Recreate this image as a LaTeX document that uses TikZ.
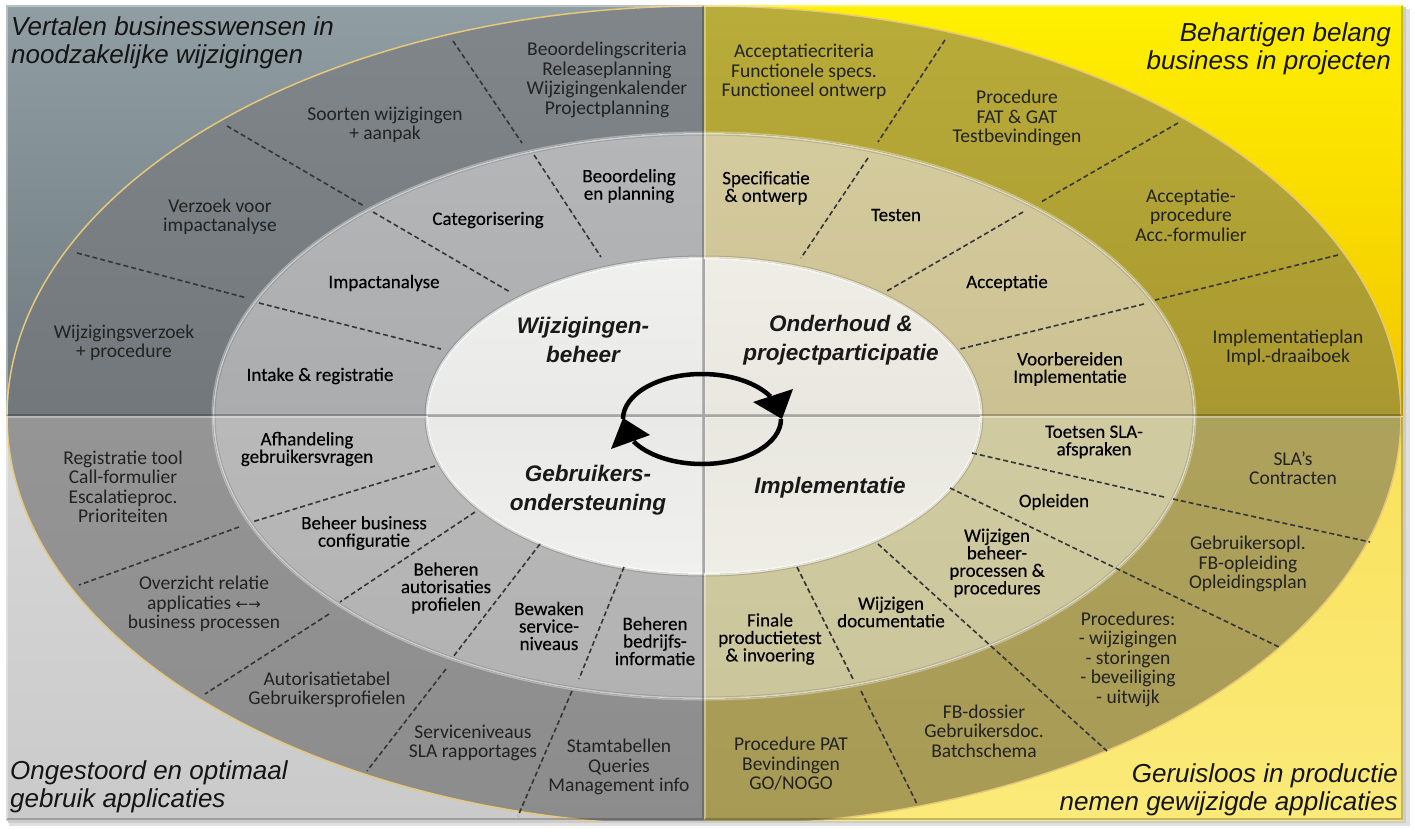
\documentclass[tikz,border=0pt]{standalone}
\usepackage{fontspec}
\setmainfont{Carlito}
\newfontfamily\headfont{Liberation Sans}
\newfontfamily\ringfont[FakeBold=0.2]{Carlito}
\newfontfamily\arrowfont{DejaVu Sans}

% quadrant palettes: background, outer ring, middle ring (A = top, B = bottom)
\definecolor{tlbgA}{HTML}{909EA4}
\definecolor{tlbgB}{HTML}{6E797E}
\definecolor{tloutA}{HTML}{80868A}
\definecolor{tloutB}{HTML}{63696C}
\definecolor{tlmidA}{HTML}{B4B6B8}
\definecolor{tlmidB}{HTML}{A0A2A4}
\definecolor{trbgA}{HTML}{FFF000}
\definecolor{trbgB}{HTML}{F2C600}
\definecolor{troutA}{HTML}{B8AC3A}
\definecolor{troutB}{HTML}{9A8424}
\definecolor{trmidA}{HTML}{D4CB9E}
\definecolor{trmidB}{HTML}{C3B686}
\definecolor{blbgA}{HTML}{D8D8D8}
\definecolor{blbgB}{HTML}{CACACA}
\definecolor{bloutA}{HTML}{9E9E9E}
\definecolor{bloutB}{HTML}{8C8C8C}
\definecolor{blmidA}{HTML}{C0C0C0}
\definecolor{blmidB}{HTML}{B2B2B2}
\definecolor{brbgA}{HTML}{F9E15A}
\definecolor{brbgB}{HTML}{FBEA7A}
\definecolor{broutA}{HTML}{B4AA64}
\definecolor{broutB}{HTML}{A79A55}
\definecolor{brmidA}{HTML}{D4CFA6}
\definecolor{brmidB}{HTML}{CCC69C}
\definecolor{coreA}{HTML}{F0F0EE}
\definecolor{coreB}{HTML}{E2E2E0}
\definecolor{warmA}{HTML}{EEEDE6}
\definecolor{warmB}{HTML}{E4E2DA}
\definecolor{rim}{HTML}{E6C878}
\definecolor{divider}{HTML}{363636}
\definecolor{labeltext}{HTML}{222222}

\begin{document}
\begin{tikzpicture}[x=1pt,y=-1pt,
  divline/.style={draw=divider, line width=1.6pt, dash pattern=on 5pt off 3pt},
  outerlabel/.style={font=\fontsize{19.5}{19.5}\selectfont, align=center, text=labeltext, inner sep=0pt},
  ringlabel/.style={font=\ringfont\fontsize{19}{17.5}\selectfont, align=center, text=black, inner sep=0pt},
  corelabel/.style={font=\headfont\bfseries\itshape\fontsize{22.5}{29}\selectfont, align=center, text=black!90, inner sep=0pt},
  title/.style={font=\headfont\itshape\fontsize{26}{28.5}\selectfont, text=black!92, inner sep=0pt},
  loop/.style={line width=4.5pt},
  loophead/.style={fill=black}
]
\useasboundingbox (0,0) rectangle (1414,828);
\fill[white] (0,0) rectangle (1414,828);
% soft drop shadow behind the panel
\fill[black!12] (9,9) rectangle (1410,826);
\fill[black!20] (8,7) rectangle (1406,823);

\coordinate (C) at (704,416);

% ---- top left quadrant
\begin{scope}
  \clip (6,5) rectangle (704,416);
  \fill[top color=tlbgA, bottom color=tlbgB] (6,5) rectangle (704,416);
  \fill[top color=tloutA, middle color=tloutB, bottom color=tloutB] (C) ellipse[x radius=697pt, y radius=410pt];
  \fill[top color=tlmidA, middle color=tlmidB, bottom color=tlmidB] (C) ellipse[x radius=491pt, y radius=283pt];
  \fill[top color=coreA, middle color=coreB, bottom color=coreB] (C) ellipse[x radius=277pt, y radius=158pt];
\end{scope}
% ---- top right quadrant
\begin{scope}
  \clip (704,5) rectangle (1403,416);
  \fill[top color=trbgA, bottom color=trbgB] (704,5) rectangle (1403,416);
  \fill[top color=troutA, middle color=troutB, bottom color=troutB] (C) ellipse[x radius=697pt, y radius=410pt];
  \fill[top color=trmidA, middle color=trmidB, bottom color=trmidB] (C) ellipse[x radius=491pt, y radius=283pt];
  \fill[top color=warmA, middle color=warmB, bottom color=warmB] (C) ellipse[x radius=277pt, y radius=158pt];
\end{scope}
% ---- bottom left quadrant
\begin{scope}
  \clip (6,416) rectangle (704,820);
  \fill[top color=blbgA, bottom color=blbgB] (6,416) rectangle (704,820);
  \fill[top color=bloutA, middle color=bloutA, bottom color=bloutB] (C) ellipse[x radius=697pt, y radius=410pt];
  \fill[top color=blmidA, middle color=blmidA, bottom color=blmidB] (C) ellipse[x radius=491pt, y radius=283pt];
  \fill[top color=coreB, middle color=coreB, bottom color=coreA] (C) ellipse[x radius=277pt, y radius=158pt];
\end{scope}
% ---- bottom right quadrant
\begin{scope}
  \clip (704,416) rectangle (1403,820);
  \fill[top color=brbgA, bottom color=brbgB] (704,416) rectangle (1403,820);
  \fill[top color=broutA, middle color=broutA, bottom color=broutB] (C) ellipse[x radius=697pt, y radius=410pt];
  \fill[top color=brmidA, middle color=brmidA, bottom color=brmidB] (C) ellipse[x radius=491pt, y radius=283pt];
  \fill[top color=warmB, middle color=warmB, bottom color=warmA] (C) ellipse[x radius=277pt, y radius=158pt];
\end{scope}

% ring edges and bevels
\begin{scope}
  \clip (6,5) rectangle (1403,820);
  \draw[rim, line width=1.5pt] (C) ellipse[x radius=697pt, y radius=410pt];
  \draw[white, opacity=0.35, line width=3pt] (C) ellipse[x radius=491pt, y radius=283pt];
  \draw[black, opacity=0.12, line width=1pt] (C) ellipse[x radius=489pt, y radius=281pt];
  \draw[white, opacity=0.55, line width=3pt] (C) ellipse[x radius=277pt, y radius=158pt];
  \draw[black, opacity=0.15, line width=1pt] (C) ellipse[x radius=279pt, y radius=160pt];
\end{scope}
% quadrant tile edges
\foreach \xa/\ya/\xb/\yb in {6/5/704/416, 704/5/1403/416, 6/416/704/820, 704/416/1403/820}{
  \draw[white, opacity=0.35, line width=2pt] (\xa+1,\yb-1) -- (\xa+1,\ya+1) -- (\xb-1,\ya+1);
  \draw[black, opacity=0.22, line width=2pt] (\xa+1,\yb-1) -- (\xb-1,\yb-1) -- (\xb-1,\ya+1);
}
% quadrant lines across the core
\begin{scope}
  \clip (C) ellipse[x radius=276pt, y radius=157pt];
  \draw[black!35, line width=1.2pt] (427,416) -- (981,416) (704,258) -- (704,574);
\end{scope}

% ---- dividers, top left
\draw[divline] (77,253) -- (247,298);
\draw[divline] (227,126) -- (364,206);
\draw[divline] (453,41) -- (522,143);
\draw[divline] (259,303) -- (441,349);
\draw[divline] (373,212) -- (510,292);
\draw[divline] (534,155) -- (601,257);
% ---- dividers, top right
\draw[divline] (945,40) -- (878,142);
\draw[divline] (1178,123) -- (1041,202);
\draw[divline] (1338,255) -- (1155,300);
\draw[divline] (868,158) -- (801,258);
\draw[divline] (1023,212) -- (887,291);
\draw[divline] (1144,304) -- (960,349);
% ---- dividers, bottom left
\draw[divline] (435,466) -- (252,522);
\draw[divline] (239,527) -- (79,585);
\draw[divline] (475,512) -- (340,602);
\draw[divline] (329,614) -- (205,694);
\draw[divline] (540,544) -- (453,657);
\draw[divline] (446,669) -- (367,771);
\draw[divline] (624,567) -- (579,679);
\draw[divline] (572,691) -- (518,816);
% ---- dividers, bottom right
\draw[divline] (972,453) -- (1164,497);
\draw[divline] (1173,499) -- (1370,542);
\draw[divline] (950,488) -- (1279,647);
\draw[divline] (878,544) -- (1107,751);
\draw[divline] (797,567) -- (854,681);
\draw[divline] (861,691) -- (917,804);

% ---- corner headings
\node[title, anchor=north west, align=left] (goalTL) at (11,16) {Vertalen businesswensen in\\noodzakelijke wijzigingen};
\node[title, anchor=north east, align=right] (goalTR) at (1391,22) {Behartigen belang\\business in projecten};
\node[title, anchor=north west, align=left] (goalBL) at (10,760) {Ongestoord en optimaal\\gebruik applicaties};
\node[title, anchor=north east, align=right] (goalBR) at (1398,763) {Geruisloos in productie\\nemen gewijzigde applicaties};

% ---- core processes
\node[corelabel] (wb) at (583,340) {Wijzigingen-\\beheer};
\node[corelabel] (op) at (841,340) {Onderhoud \&\\projectparticipatie};
\node[corelabel] (go) at (588,490) {Gebruikers-\\ondersteuning};
\node[corelabel] (im) at (830,488) {Implementatie};

% cycle arrow: two half loops, each ending in a triangular head
\coordinate (loopL) at (623,419);
\coordinate (loopR) at (781,419);
\draw[loop] (loopL) arc[start angle=180, end angle=30, x radius=79pt, y radius=45pt];
\draw[loop] (loopR) arc[start angle=0, end angle=-150, x radius=79pt, y radius=45pt];
\fill[loophead] (753,402) -- (793,389) -- (782,419) -- cycle;
\fill[loophead] (611,449) -- (650,435) -- (623,418) -- cycle;

% ---- activities (middle ring)
\node[ringlabel] (m1) at (629,186) {Beoordeling\\en planning};
\node[ringlabel] (m2) at (488,220) {Categorisering};
\node[ringlabel] (m3) at (384,283) {Impactanalyse};
\node[ringlabel] (m4) at (320,376) {Intake \& registratie};
\node[ringlabel] (m5) at (766,188) {Specificatie\\\& ontwerp};
\node[ringlabel] (m6) at (896,215) {Testen};
\node[ringlabel] (m7) at (1007,283) {Acceptatie};
\node[ringlabel] (m8) at (1070,369) {Voorbereiden\\Implementatie};
\node[ringlabel] (m9) at (307,449) {Afhandeling\\gebruikersvragen};
\node[ringlabel] (m10) at (364,533) {Beheer business\\configuratie};
\node[ringlabel] (m11) at (446,588) {Beheren\\autorisaties\\profielen};
\node[ringlabel] (m12) at (549,626) {Bewaken\\service-\\niveaus};
\node[ringlabel] (m13) at (655,641) {Beheren\\bedrijfs-\\informatie};
\node[ringlabel] (m14) at (1094,442) {Toetsen SLA-\\afspraken};
\node[ringlabel] (m15) at (1054,502) {Opleiden};
\node[ringlabel] (m16) at (997,563) {Wijzigen\\beheer-\\processen \&\\procedures};
\node[ringlabel] (m17) at (891,612) {Wijzigen\\documentatie};
\node[ringlabel] (m18) at (770,639) {Finale\\productietest\\\& invoering};

% ---- deliverables (outer ring)
\node[outerlabel] (l1) at (607,80) {Beoordelingscriteria\\Releaseplanning\\Wijzigingenkalender\\Projectplanning};
\node[outerlabel] (l2) at (385,125) {Soorten wijzigingen\\+ aanpak};
\node[outerlabel] (l3) at (220,217) {Verzoek voor\\impactanalyse};
\node[outerlabel] (l4) at (124,343) {Wijzigingsverzoek\\+ procedure};
\node[outerlabel] (l5) at (804,72) {Acceptatiecriteria\\Functionele specs.\\Functioneel ontwerp};
\node[outerlabel] (l6) at (1017,118) {Procedure\\FAT \& GAT\\Testbevindingen};
\node[outerlabel] (l7) at (1191,215) {Acceptatie-\\procedure\\Acc.-formulier};
\node[outerlabel] (l8) at (1288,348) {Implementatieplan\\Impl.-draaiboek};
\node[outerlabel] (l9) at (123,487) {Registratie tool\\Call-formulier\\Escalatieproc.\\Prioriteiten};
\node[outerlabel] (l10) at (204,604) {Overzicht relatie\\applicaties {\arrowfont\fontsize{15}{15}\selectfont ←→}\\business processen};
\node[outerlabel] (l11) at (327,690) {Autorisatietabel\\Gebruikersprofielen};
\node[outerlabel] (l12) at (473,743) {Serviceniveaus\\SLA rapportages};
\node[outerlabel] (l13) at (619,767) {Stamtabellen\\Queries\\Management info};
\node[outerlabel] (l14) at (1293,468) {SLA’s\\Contracten};
\node[outerlabel] (l15) at (1248,564) {Gebruikersopl.\\FB-opleiding\\Opleidingsplan};
\node[outerlabel] (l16) at (1128,659) {Procedures:\\- wijzigingen\\- storingen\\- beveiliging\\- uitwijk};
\node[outerlabel] (l17) at (984,731) {FB-dossier\\Gebruikersdoc.\\Batchschema};
\node[outerlabel] (l18) at (791,764) {Procedure PAT\\Bevindingen\\GO/NOGO};
\end{tikzpicture}
\end{document}
